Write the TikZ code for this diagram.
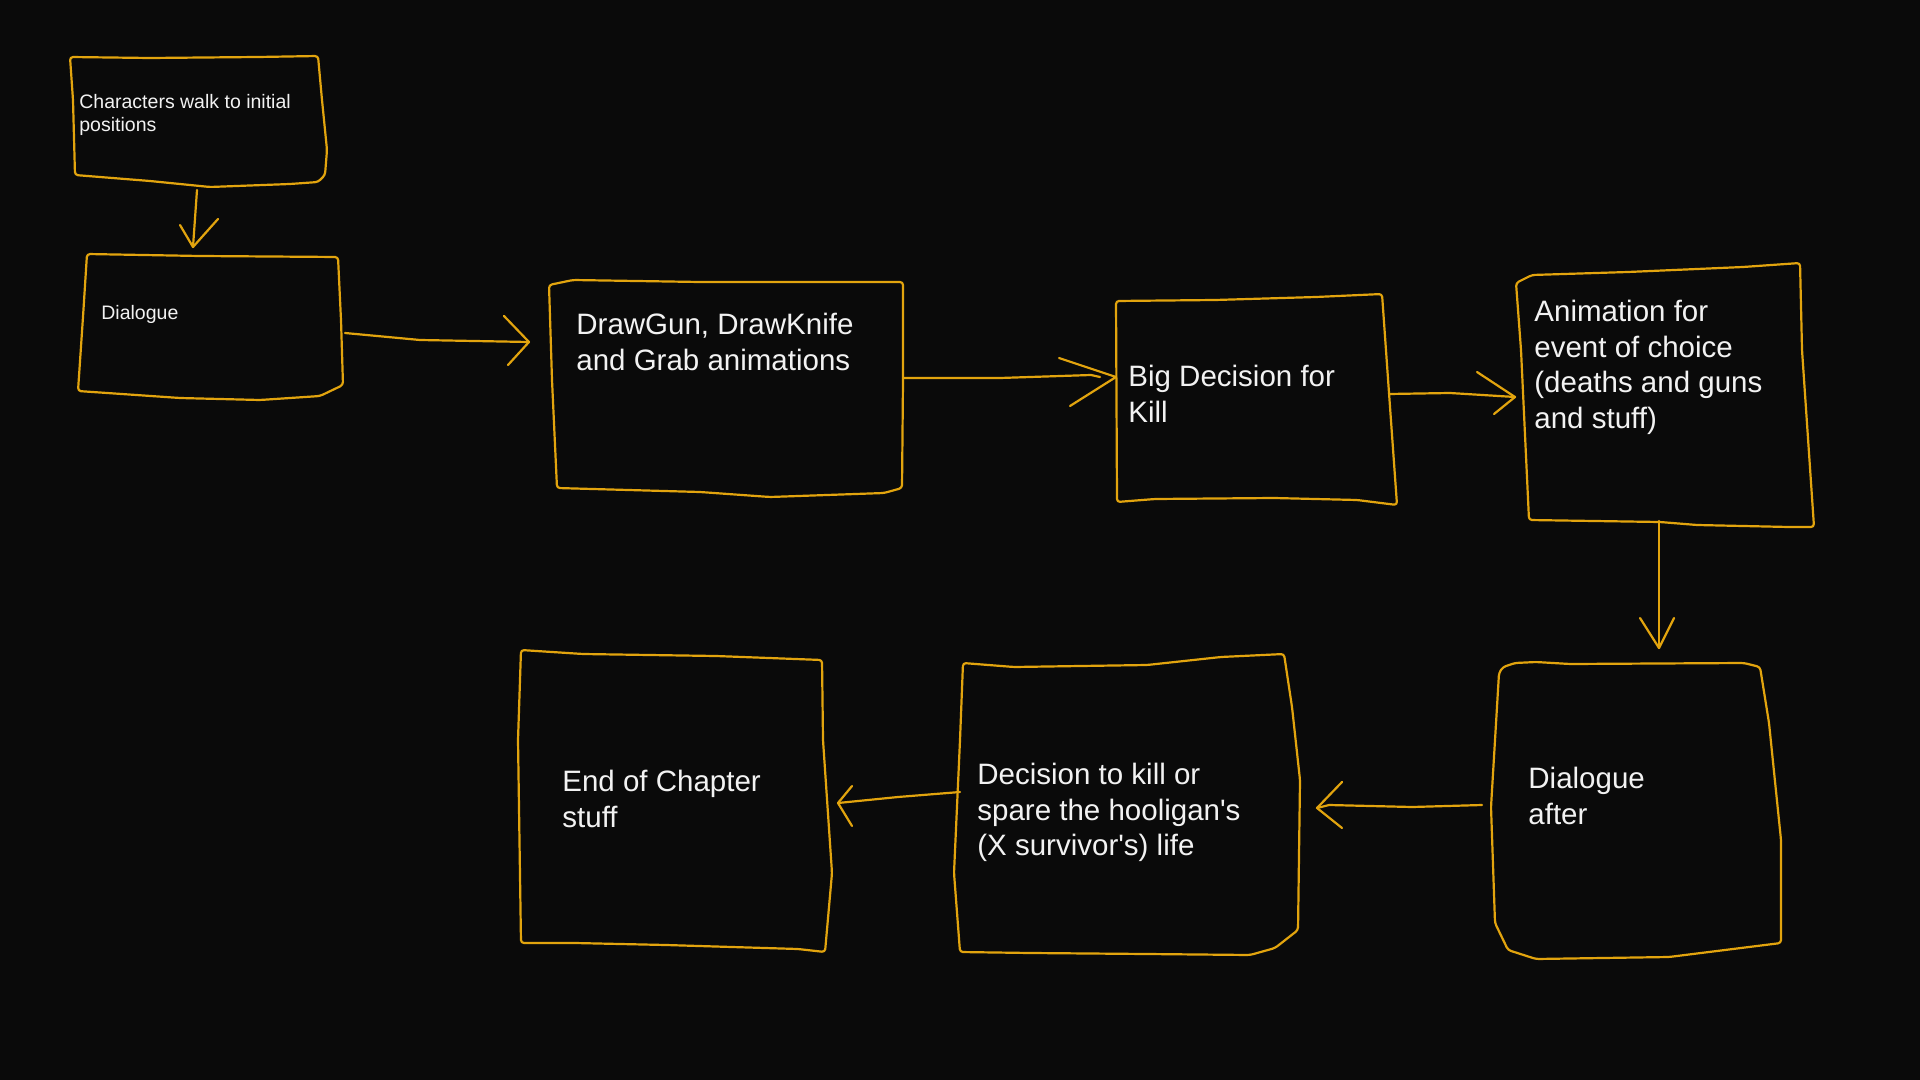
\documentclass[tikz,border=0pt]{standalone}
\usepackage{fontspec}
\setmainfont{Liberation Sans}
\newfontfamily\plainsans{Liberation Sans}
\definecolor{bg}{HTML}{0A0A0A}
\definecolor{pen}{RGB}{226,164,14}
\definecolor{ink}{HTML}{F2F2F2}
\tikzset{
  hand/.style={draw=pen, line width=1.1pt, line join=round, line cap=round, rounded corners=1.5pt},
  conn/.style={draw=pen, line width=1.1pt, line join=round, line cap=round},
  bigtxt/.style={text=ink, anchor=north west, inner sep=0pt, align=left, font=\plainsans\fontsize{14.75pt}{17.75pt}\selectfont},
  smalltxt/.style={text=ink, anchor=north west, inner sep=0pt, align=left, font=\plainsans\fontsize{9.75pt}{11.65pt}\selectfont},
}
\begin{document}
\begin{tikzpicture}[x=0.5pt,y=-0.5pt]
\fill[bg] (0,0) rectangle (1920,1080);
\useasboundingbox (0,0) rectangle (1920,1080);

% boxes (hand drawn outlines)
\path[hand] (70,57) -- (150,58) -- (258,57) -- (318,56) -- (322,100) -- (327,150) -- (325,175) -- (318,182) -- (290,184) -- (210,187) -- (150,181) -- (75,175) -- (73,100) -- cycle;
\path[hand] (87,254) -- (200,256) -- (338,257) -- (341,320) -- (343,385) -- (320,396) -- (260,400) -- (180,398) -- (78,391) -- (83,317) -- cycle;
\path[hand] (549,285) -- (573,280) -- (700,282) -- (903,282) -- (903,380) -- (902,488) -- (884,493) -- (770,497) -- (700,492) -- (557,488) -- (552,380) -- cycle;
\path[hand] (1116,301) -- (1215,300) -- (1316,297) -- (1382,294) -- (1389,393) -- (1397,505) -- (1357,500) -- (1274,498) -- (1155,499) -- (1117,502) -- cycle;
\path[hand] (1516,283) -- (1532,275) -- (1628,272) -- (1743,267) -- (1800,263) -- (1802,350) -- (1814,527) -- (1789,527) -- (1697,525) -- (1660,522) -- (1529,520) -- (1521,350) -- cycle;
\path[hand] (1503,667) -- (1515,663) -- (1536,662) -- (1570,664) -- (1744,663) -- (1760,667) -- (1769,723) -- (1781,840) -- (1781,943) -- (1669,957) -- (1536,959) -- (1508,950) -- (1495,923) -- (1491,807) -- (1499,673) -- cycle;
\path[hand] (963,663) -- (1014,667) -- (1147,665) -- (1221,657) -- (1284,654) -- (1292,707) -- (1300,780) -- (1298,930) -- (1275,948) -- (1250,955) -- (1147,954) -- (1031,953) -- (960,952) -- (954,873) -- (960,740) -- cycle;
\path[hand] (521,650) -- (583,654) -- (716,656) -- (822,660) -- (823,740) -- (832,873) -- (825,952) -- (798,949) -- (666,945) -- (575,943) -- (521,943) -- (518,740) -- cycle;

% texts
\node[smalltxt] (t1) at (79,91.5) {\strut Characters walk to initial\\positions};
\node[smalltxt] (t2) at (101,302.5) {\strut Dialogue};
\node[bigtxt] (t3) at (576,309.5) {\strut DrawGun, DrawKnife\\and Grab animations};
\node[bigtxt] (t4) at (1128,361.5) {\strut Big Decision for\\Kill};
\node[bigtxt] (t5) at (1534,296.5) {\strut Animation for\\event of choice\\(deaths and guns\\and stuff)};
\node[bigtxt] (t6) at (1528,763.5) {\strut Dialogue\\after};
\node[bigtxt] (t7) at (977,759.5) {\strut Decision to kill or\\spare the hooligan's\\(X survivor's) life};
\node[bigtxt] (t8) at (562,766.5) {\strut End of Chapter\\stuff};

% connector end points
\coordinate (b1out) at (197,190);  \coordinate (b2in) at (193,247);
\coordinate (b2out) at (345,333);  \coordinate (b3in) at (529,342);
\coordinate (b3out) at (904,378);  \coordinate (b4in) at (1116,377);
\coordinate (b4out) at (1389,394); \coordinate (b5in) at (1515,397);
\coordinate (b5out) at (1659,521); \coordinate (b6in) at (1659,648);
\coordinate (b6out) at (1482,805); \coordinate (b7in) at (1317,808);
\coordinate (b7out) at (960,792);  \coordinate (b8in) at (838,803);

% connectors
\draw[conn] (b1out) -- (b2in);
\draw[conn] (180,225) -- (b2in) -- (218,219);
\draw[conn] (b2out) -- (420,340) -- (b3in);
\draw[conn] (504,316) -- (b3in) -- (508,365);
\draw[conn] (b3out) -- (1000,378) -- (1091,375) -- (1100,377);
\draw[conn] (1059,358) -- (b4in) -- (1070,406);
\draw[conn] (b4out) -- (1450,393) -- (b5in);
\draw[conn] (1477,372) -- (b5in) -- (1494,414);
\draw[conn] (b5out) -- (b6in);
\draw[conn] (1640,618) -- (b6in) -- (1674,618);
\draw[conn] (b6out) -- (1412,807) -- (1329,805) -- (b7in);
\draw[conn] (1342,782) -- (b7in) -- (1342,828);
\draw[conn] (b7out) -- (898,797) -- (b8in);
\draw[conn] (852,786) -- (b8in) -- (852,826);
\end{tikzpicture}
\end{document}
